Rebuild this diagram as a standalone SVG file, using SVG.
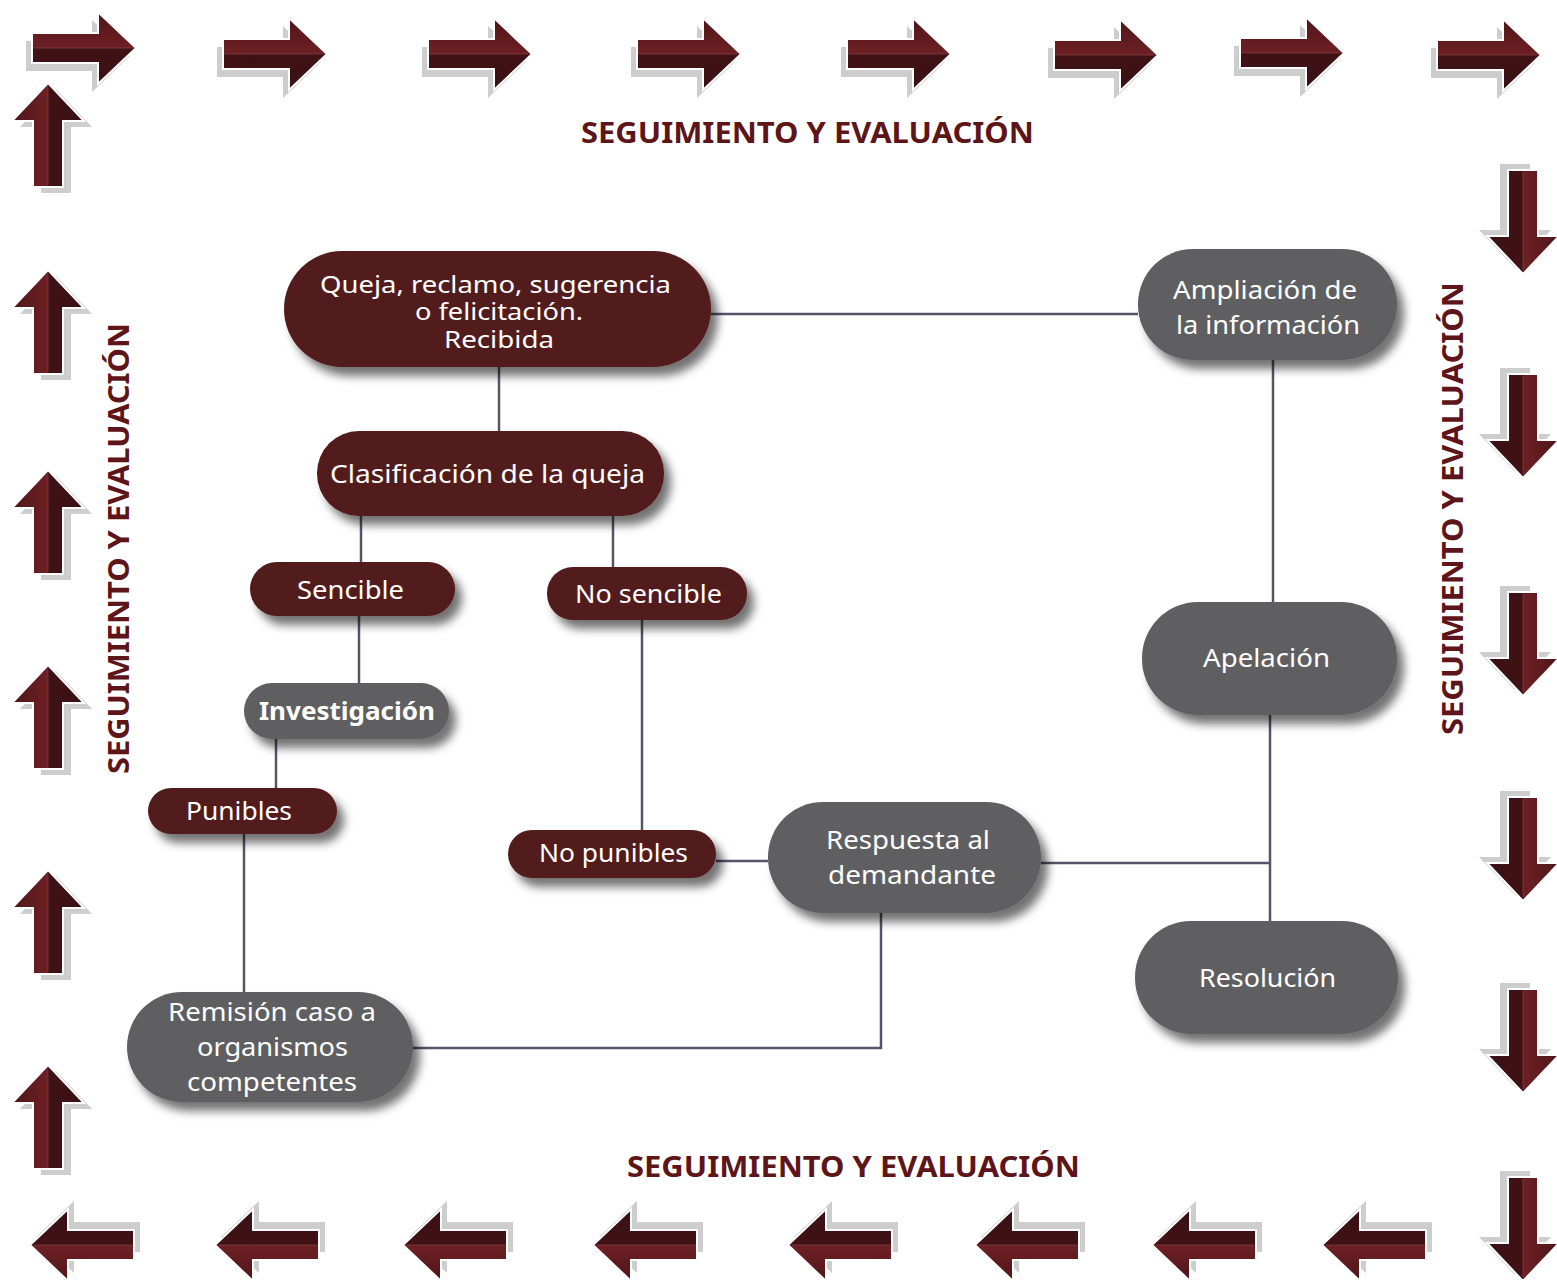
<svg xmlns="http://www.w3.org/2000/svg" xmlns:xlink="http://www.w3.org/1999/xlink" width="1557" height="1283" viewBox="0 0 1557 1283">
<style>
.title{font-family:"Noto Sans","Liberation Sans",sans-serif;font-weight:700;font-size:29px;fill:#5e1519}
.nt{font-family:"Noto Sans","Liberation Sans",sans-serif;font-size:25px;fill:#ffffff;text-anchor:middle}
.sm{font-size:23px}
.maroon{fill:#521a1c;filter:url(#sh)}
.gray{fill:#5f5f62;filter:url(#sh)}
.conn{stroke:#55546a;stroke-width:2.5;fill:none}
</style>
<defs>
<filter id="sh" x="-20%" y="-30%" width="140%" height="170%">
<feDropShadow dx="7" dy="9" stdDeviation="5" flood-color="#000" flood-opacity="0.55"/>
</filter>
<linearGradient id="ag" gradientUnits="userSpaceOnUse" x1="0" y1="-36" x2="0" y2="36">
<stop offset="0" stop-color="#4e1619"/>
<stop offset="0.5" stop-color="#6e2024"/>
<stop offset="0.5" stop-color="#401216"/>
<stop offset="1" stop-color="#3a1014"/>
</linearGradient>
<g id="arr">
<path d="M0,-15 H66 V-36 L104,0 L66,36 V15 H0 Z" fill="#cdcdcd" transform="translate(-6,8)"/>
<path d="M0,-15 H66 V-36 L104,0 L66,36 V15 H0 Z" fill="url(#ag)" stroke="#ffffff" stroke-width="2"/>
<path d="M2,0 H100" stroke="#8a4a4c" stroke-width="1" opacity="0.6"/>
</g>
</defs>
<rect width="1557" height="1283" fill="#ffffff"/>

<g id="border-arrows">
<use xlink:href="#arr" transform="translate(32,48)"/>
<use xlink:href="#arr" transform="translate(223,54)"/>
<use xlink:href="#arr" transform="translate(428,54)"/>
<use xlink:href="#arr" transform="translate(637,54)"/>
<use xlink:href="#arr" transform="translate(847,54)"/>
<use xlink:href="#arr" transform="translate(1054,55)"/>
<use xlink:href="#arr" transform="translate(1240,53)"/>
<use xlink:href="#arr" transform="translate(1437,55)"/>

<use xlink:href="#arr" transform="translate(48,187) rotate(-90)"/>
<use xlink:href="#arr" transform="translate(48,374) rotate(-90)"/>
<use xlink:href="#arr" transform="translate(48,574) rotate(-90)"/>
<use xlink:href="#arr" transform="translate(48,769) rotate(-90)"/>
<use xlink:href="#arr" transform="translate(48,974) rotate(-90)"/>
<use xlink:href="#arr" transform="translate(48,1169) rotate(-90)"/>

<use xlink:href="#arr" transform="translate(1523,170) rotate(90)"/>
<use xlink:href="#arr" transform="translate(1523,374) rotate(90)"/>
<use xlink:href="#arr" transform="translate(1523,592) rotate(90)"/>
<use xlink:href="#arr" transform="translate(1523,797) rotate(90)"/>
<use xlink:href="#arr" transform="translate(1523,989) rotate(90)"/>
<use xlink:href="#arr" transform="translate(1523,1177) rotate(90)"/>

<use xlink:href="#arr" transform="translate(134,1245) rotate(180)"/>
<use xlink:href="#arr" transform="translate(319,1245) rotate(180)"/>
<use xlink:href="#arr" transform="translate(507,1245) rotate(180)"/>
<use xlink:href="#arr" transform="translate(697,1245) rotate(180)"/>
<use xlink:href="#arr" transform="translate(892,1245) rotate(180)"/>
<use xlink:href="#arr" transform="translate(1079,1245) rotate(180)"/>
<use xlink:href="#arr" transform="translate(1256,1245) rotate(180)"/>
<use xlink:href="#arr" transform="translate(1426,1245) rotate(180)"/>
</g>

<g id="titles">
<text class="title" x="581" y="143" textLength="453" lengthAdjust="spacingAndGlyphs">SEGUIMIENTO Y EVALUACIÓN</text>
<text class="title" x="627" y="1177" textLength="453" lengthAdjust="spacingAndGlyphs">SEGUIMIENTO Y EVALUACIÓN</text>
<text class="title" transform="translate(129,774) rotate(-90)" textLength="451" lengthAdjust="spacingAndGlyphs">SEGUIMIENTO Y EVALUACIÓN</text>
<text class="title" transform="translate(1463,735) rotate(-90)" textLength="453" lengthAdjust="spacingAndGlyphs">SEGUIMIENTO Y EVALUACIÓN</text>
</g>

<g id="connectors">
<path class="conn" d="M711,314 H1138"/>
<path class="conn" d="M499,367 V431"/>
<path class="conn" d="M361,516 V562"/>
<path class="conn" d="M613,516 V567"/>
<path class="conn" d="M359,616 V683"/>
<path class="conn" d="M276,739 V788"/>
<path class="conn" d="M244,834 V992"/>
<path class="conn" d="M642,620 V830"/>
<path class="conn" d="M716,861 H768"/>
<path class="conn" d="M1041,863 H1270"/>
<path class="conn" d="M1273,360 V602"/>
<path class="conn" d="M1270,715 V921"/>
<path class="conn" d="M881,913 V1048 H413"/>
</g>

<g id="n-queja">
<rect class="maroon" x="284" y="251" width="427" height="116" rx="58"/>
<text class="nt sm" x="495.5" y="293" textLength="351" lengthAdjust="spacingAndGlyphs">Queja, reclamo, sugerencia</text>
<text class="nt sm" x="499" y="320" textLength="168" lengthAdjust="spacingAndGlyphs">o felicitación.</text>
<text class="nt sm" x="499" y="348" textLength="110" lengthAdjust="spacingAndGlyphs">Recibida</text>
</g>
<g id="n-ampliacion">
<rect class="gray" x="1138" y="249" width="259" height="111" rx="55"/>
<text class="nt" x="1265" y="299" textLength="184" lengthAdjust="spacingAndGlyphs">Ampliación de</text>
<text class="nt" x="1268" y="334" textLength="184" lengthAdjust="spacingAndGlyphs">la información</text>
</g>
<g id="n-clasificacion">
<rect class="maroon" x="317" y="431" width="347" height="85" rx="42"/>
<text class="nt" x="487.5" y="483" textLength="315" lengthAdjust="spacingAndGlyphs">Clasificación de la queja</text>
</g>
<g id="n-sencible">
<rect class="maroon" x="250" y="562" width="205" height="54" rx="27"/>
<text class="nt" x="350.5" y="599" textLength="107" lengthAdjust="spacingAndGlyphs">Sencible</text>
</g>
<g id="n-nosencible">
<rect class="maroon" x="547" y="567" width="200" height="53" rx="26"/>
<text class="nt" x="648.5" y="603" textLength="147" lengthAdjust="spacingAndGlyphs">No sencible</text>
</g>
<g id="n-investigacion">
<rect class="gray" x="244" y="683" width="205" height="56" rx="28"/>
<text class="nt" x="347" y="720" font-weight="700" textLength="176" lengthAdjust="spacingAndGlyphs">Investigación</text>
</g>
<g id="n-punibles">
<rect class="maroon" x="148" y="788" width="189" height="46" rx="23"/>
<text class="nt" x="239" y="820" textLength="106" lengthAdjust="spacingAndGlyphs">Punibles</text>
</g>
<g id="n-nopunibles">
<rect class="maroon" x="508" y="830" width="208" height="48" rx="24"/>
<text class="nt" x="613.5" y="862" textLength="149" lengthAdjust="spacingAndGlyphs">No punibles</text>
</g>
<g id="n-respuesta">
<rect class="gray" x="768" y="802" width="273" height="111" rx="55"/>
<text class="nt" x="908" y="849" textLength="164" lengthAdjust="spacingAndGlyphs">Respuesta al</text>
<text class="nt" x="912" y="884" textLength="168" lengthAdjust="spacingAndGlyphs">demandante</text>
</g>
<g id="n-apelacion">
<rect class="gray" x="1142" y="602" width="255" height="113" rx="56"/>
<text class="nt" x="1266.5" y="667" textLength="127" lengthAdjust="spacingAndGlyphs">Apelación</text>
</g>
<g id="n-resolucion">
<rect class="gray" x="1135" y="921" width="263" height="113" rx="56"/>
<text class="nt" x="1267.5" y="987" textLength="137" lengthAdjust="spacingAndGlyphs">Resolución</text>
</g>
<g id="n-remision">
<rect class="gray" x="127" y="992" width="286" height="110" rx="55"/>
<text class="nt" x="272" y="1021" textLength="208" lengthAdjust="spacingAndGlyphs">Remisión caso a</text>
<text class="nt" x="272.5" y="1056" textLength="151" lengthAdjust="spacingAndGlyphs">organismos</text>
<text class="nt" x="272" y="1091" textLength="170" lengthAdjust="spacingAndGlyphs">competentes</text>
</g>
</svg>
